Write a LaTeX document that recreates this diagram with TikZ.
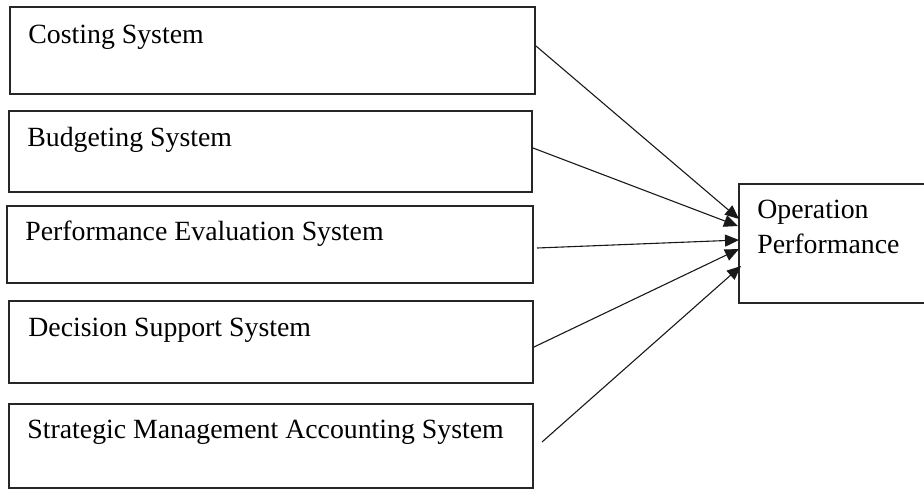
\documentclass[tikz,border=0pt]{standalone}
\usepackage{fontspec}
\setmainfont{Liberation Serif}
\usetikzlibrary{arrows.meta}
\begin{document}
\begin{tikzpicture}[x=0.5pt,y=-0.5pt,
  box/.style={draw=black!85,line width=0.75pt,rectangle,inner sep=0pt},
  lbl/.style={anchor=base west,inner sep=0pt,font=\fontsize{13.9}{17}\selectfont},
  conn/.style={draw=black!90,line width=0.55pt,-{Triangle[length=7pt,width=6pt]}}]
\useasboundingbox (0,0) rectangle (924,489);
% left boxes
\node[box,minimum width=262.5pt,minimum height=43.5pt] (b1) at (272.5,50.5) {};
\node[box,minimum width=261.5pt,minimum height=40.5pt] (b2) at (270.5,151.5) {};
\node[box,minimum width=263pt,minimum height=38.5pt] (b3) at (270,244.5) {};
\node[box,minimum width=262pt,minimum height=41pt] (b4) at (271,342) {};
\node[box,minimum width=262pt,minimum height=42pt] (b5) at (271,446) {};
% right box (right edge runs past the picture)
\node[box,minimum width=95pt,minimum height=59.5pt] (op) at (834,243.5) {};
% labels
\node[lbl] (t1) at (28,43) {Costing System};
\node[lbl] (t2) at (27,146) {Budgeting System};
\node[lbl] (t3) at (25,240) {Performance Evaluation System};
\node[lbl] (t4) at (28,336) {Decision Support System};
\node[lbl] (t5) at (27,438) {Strategic Management Accounting System};
\node[lbl] (o1) at (757,218) {Operation};
\node[lbl] (o2) at (757,253) {Performance};
% connector ends
\coordinate (s1) at (536,46);
\coordinate (s2) at (533,148);
\coordinate (s3) at (537,248);
\coordinate (s4) at (534,347);
\coordinate (s5) at (542,442);
\coordinate (e1) at (739,219);
\coordinate (e2) at (738,226);
\coordinate (e3) at (739,240);
\coordinate (e4) at (739,249);
\coordinate (e5) at (741,266);
\draw[conn] (s1) -- (e1);
\draw[conn] (s2) -- (e2);
\draw[conn] (s3) -- (e3);
\draw[conn] (s4) -- (e4);
\draw[conn] (s5) -- (e5);
\end{tikzpicture}
\end{document}
